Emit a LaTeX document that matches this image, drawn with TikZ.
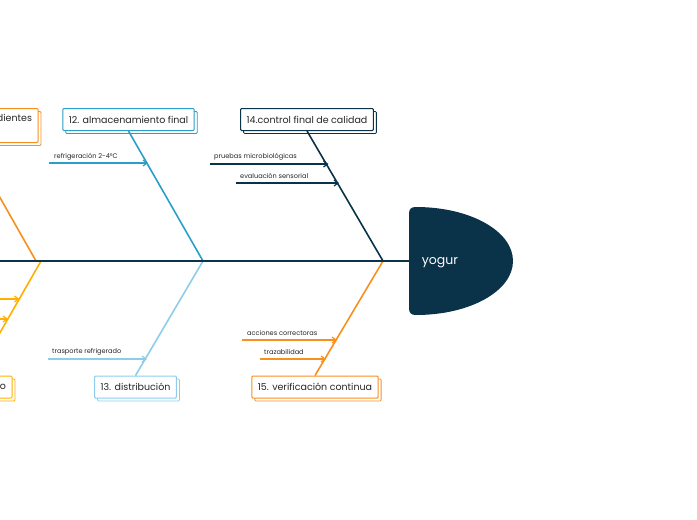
\documentclass[tikz,border=0pt]{standalone}
\usepackage{fontspec}
\setmainfont{Poppins}
\usetikzlibrary{arrows.meta,shadows,calc}
\definecolor{cnavy}{HTML}{0A3249}
\definecolor{corange}{HTML}{F7901E}
\definecolor{cyellow}{HTML}{FFB000}
\definecolor{cblue}{HTML}{2A9FC7}
\definecolor{clight}{HTML}{8DCDEA}
\definecolor{ctext}{HTML}{262626}
\begin{document}
\begin{tikzpicture}[x=1pt,y=-1pt,
  box/.style={draw=#1, fill=white, line width=1pt, rounded corners=1pt,
    inner xsep=6pt, inner ysep=0pt, minimum height=22pt,
    font=\fontsize{9.5}{12}\selectfont, text=ctext,
    copy shadow={shadow xshift=3pt, shadow yshift=-3pt, draw=#1, fill=white, line width=0.8pt}},
  bone/.style={draw=#1, line width=1.6pt},
  sub/.style={draw=#1, line width=1.2pt, -{Straight Barb[length=4pt,width=6pt,line width=1.2pt]}},
  lbl/.style={anchor=south west, inner sep=0pt, font=\fontsize{6.6}{8}\selectfont, text=ctext}]
\useasboundingbox (0,0) rectangle (697,520);
\clip (0,0) rectangle (697,520);

% spine
\coordinate (spineL) at (-5,261);
\coordinate (headL) at (410,261);
\coordinate (j1) at (36,261);
\coordinate (j2) at (41,261);
\coordinate (j3) at (203,261);
\coordinate (j4) at (383,261);

% boxes
\node[box=corange, text width=126pt, align=right, minimum height=34pt] (b1) at (-31,125.5) {dientes\\\strut};
\node[box=cyellow, text width=61pt, align=right] (b2) at (-24.5,387) {o};
\node[box=cblue] (b12) at (128.5,119.5) {12. almacenamiento final};
\node[box=clight] (b13) at (135.5,387) {13. distribución};
\node[box=cnavy] (b14) at (307,119.5) {14.control final de calidad};
\node[box=corange] (b15) at (315,387) {15. verificación continua};

% bones
\draw[bone=corange] (j1) -- (b1.south);
\draw[bone=cyellow] (j2) -- (b2.north);
\draw[bone=cblue] (j3) -- (b12.south);
\draw[bone=clight] (j3) -- (b13.north);
\draw[bone=cnavy] (j4) -- (b14.south);
\draw[bone=corange] (j4) -- (b15.north);
\draw[cnavy, line width=1.8pt] (spineL) -- (headL);

% head
\fill[cnavy] (409,214) .. controls (409,209) and (411,207) .. (416,207)
  .. controls (470,207) and (513,231) .. (513,261)
  .. controls (513,291) and (470,315) .. (416,315)
  .. controls (411,315) and (409,313) .. (409,308) -- cycle;
\node[text=white, font=\fontsize{12.5}{14}\selectfont] (yogur) at (440,263) {yogur};

% sub-arrows
\coordinate (ya1s) at (-80,299); \coordinate (ya1e) at (19.5,299);
\coordinate (ya2s) at (-80,319); \coordinate (ya2e) at (8,319);
\draw[sub=cyellow] (ya1s) -- (ya1e);
\draw[sub=cyellow] (ya2s) -- (ya2e);

\coordinate (a12s) at (49,163); \coordinate (a12e) at (148,163);
\draw[sub=cblue] (a12s) -- (a12e);
\node[lbl] (l12) at (54,160) {refrigeración 2-4°C};

\coordinate (a13s) at (48,359); \coordinate (a13e) at (147,359);
\draw[sub=clight] (a13s) -- (a13e);
\node[lbl] (l13) at (52,355) {trasporte refrigerado};

\coordinate (a14as) at (210,164); \coordinate (a14ae) at (328.5,164);
\draw[sub=cnavy] (a14as) -- (a14ae);
\node[lbl] (l14a) at (214,160) {pruebas microbiológicas};
\coordinate (a14bs) at (236,183); \coordinate (a14be) at (339,183);
\draw[sub=cnavy] (a14bs) -- (a14be);
\node[lbl] (l14b) at (240,179) {evaluación sensorial};

\coordinate (a15as) at (242,340); \coordinate (a15ae) at (337,340);
\draw[sub=corange] (a15as) -- (a15ae);
\node[lbl] (l15a) at (247,336) {acciones correctoras};
\coordinate (a15bs) at (260,359); \coordinate (a15be) at (326,359);
\draw[sub=corange] (a15bs) -- (a15be);
\node[lbl] (l15b) at (264,355) {trazabilidad};
\end{tikzpicture}
\end{document}
